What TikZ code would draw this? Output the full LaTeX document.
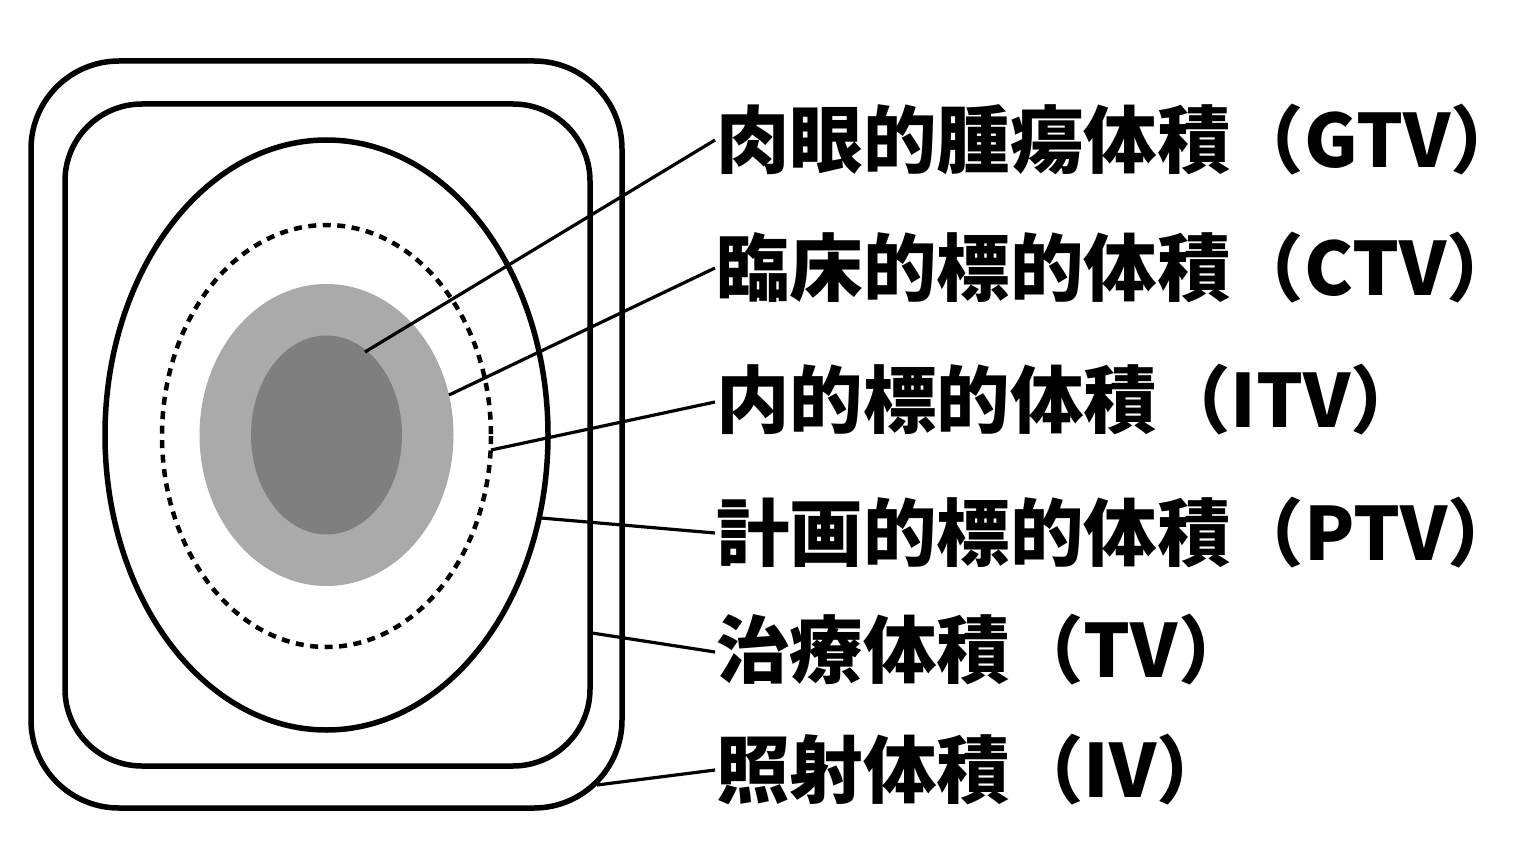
\documentclass[tikz,border=0pt]{standalone}
\usepackage{fontspec}
\newfontfamily\cjk{Noto Sans CJK JP}[BoldFont={Noto Sans CJK JP Black}]
\begin{document}
\begin{tikzpicture}[x=1pt,y=-1pt,
  shapeline/.style={line width=5.5pt},
  leader/.style={line width=3.2pt},
  label/.style={anchor=west,inner sep=0pt,font=\cjk\bfseries\fontsize{73.5}{80}\selectfont}]
\useasboundingbox[fill=white] (0,0) rectangle (1536,864);
% outer boxes
\draw[shapeline,rounded corners=88pt] (31,61) rectangle (622,808);
\draw[shapeline,rounded corners=77pt] (65,104) rectangle (590,766);
% filled ellipses
\fill[fill={rgb,255:red,170;green,170;blue,170}] (326.5,435) ellipse [x radius=127, y radius=151];
\fill[fill={rgb,255:red,127;green,127;blue,127}] (326.5,435) ellipse [x radius=75.5, y radius=99.5];
% dashed ellipse
\draw[shapeline,line width=4.5pt,dash pattern=on 8pt off 6.5pt] (326.5,436) ellipse [x radius=164.5, y radius=211];
% big ellipse
\draw[shapeline] (326.5,435) ellipse [x radius=221.5, y radius=295];
% labels
\node[label] (gtv) at (716,140) {肉眼的腫瘍体積（GTV）};
\node[label] (ctv) at (716,268) {臨床的標的体積（CTV）};
\node[label] (itv) at (716,400) {内的標的体積（ITV）};
\node[label] (ptv) at (716,533) {計画的標的体積（PTV）};
\node[label] (tv)  at (716,650) {治療体積（TV）};
\node[label] (iv)  at (716,770) {照射体積（IV）};
% leader start points
\coordinate (pg) at (365,352);
\coordinate (pc) at (449,395);
\coordinate (pi) at (491,450);
\coordinate (pp) at (541,518);
\coordinate (pt) at (592,633);
\coordinate (pv) at (597,785);
\draw[leader] (pg) -- ([xshift=-1pt]gtv.west);
\draw[leader] (pc) -- ([xshift=-1pt]ctv.west);
\draw[leader] (pi) -- ([xshift=-1pt,yshift=-2pt]itv.west);
\draw[leader] (pp) -- ([xshift=-1pt]ptv.west);
\draw[leader] (pt) -- ([xshift=-1pt,yshift=-2pt]tv.west);
\draw[leader] (pv) -- ([xshift=-1pt]iv.west);
\end{tikzpicture}
\end{document}
